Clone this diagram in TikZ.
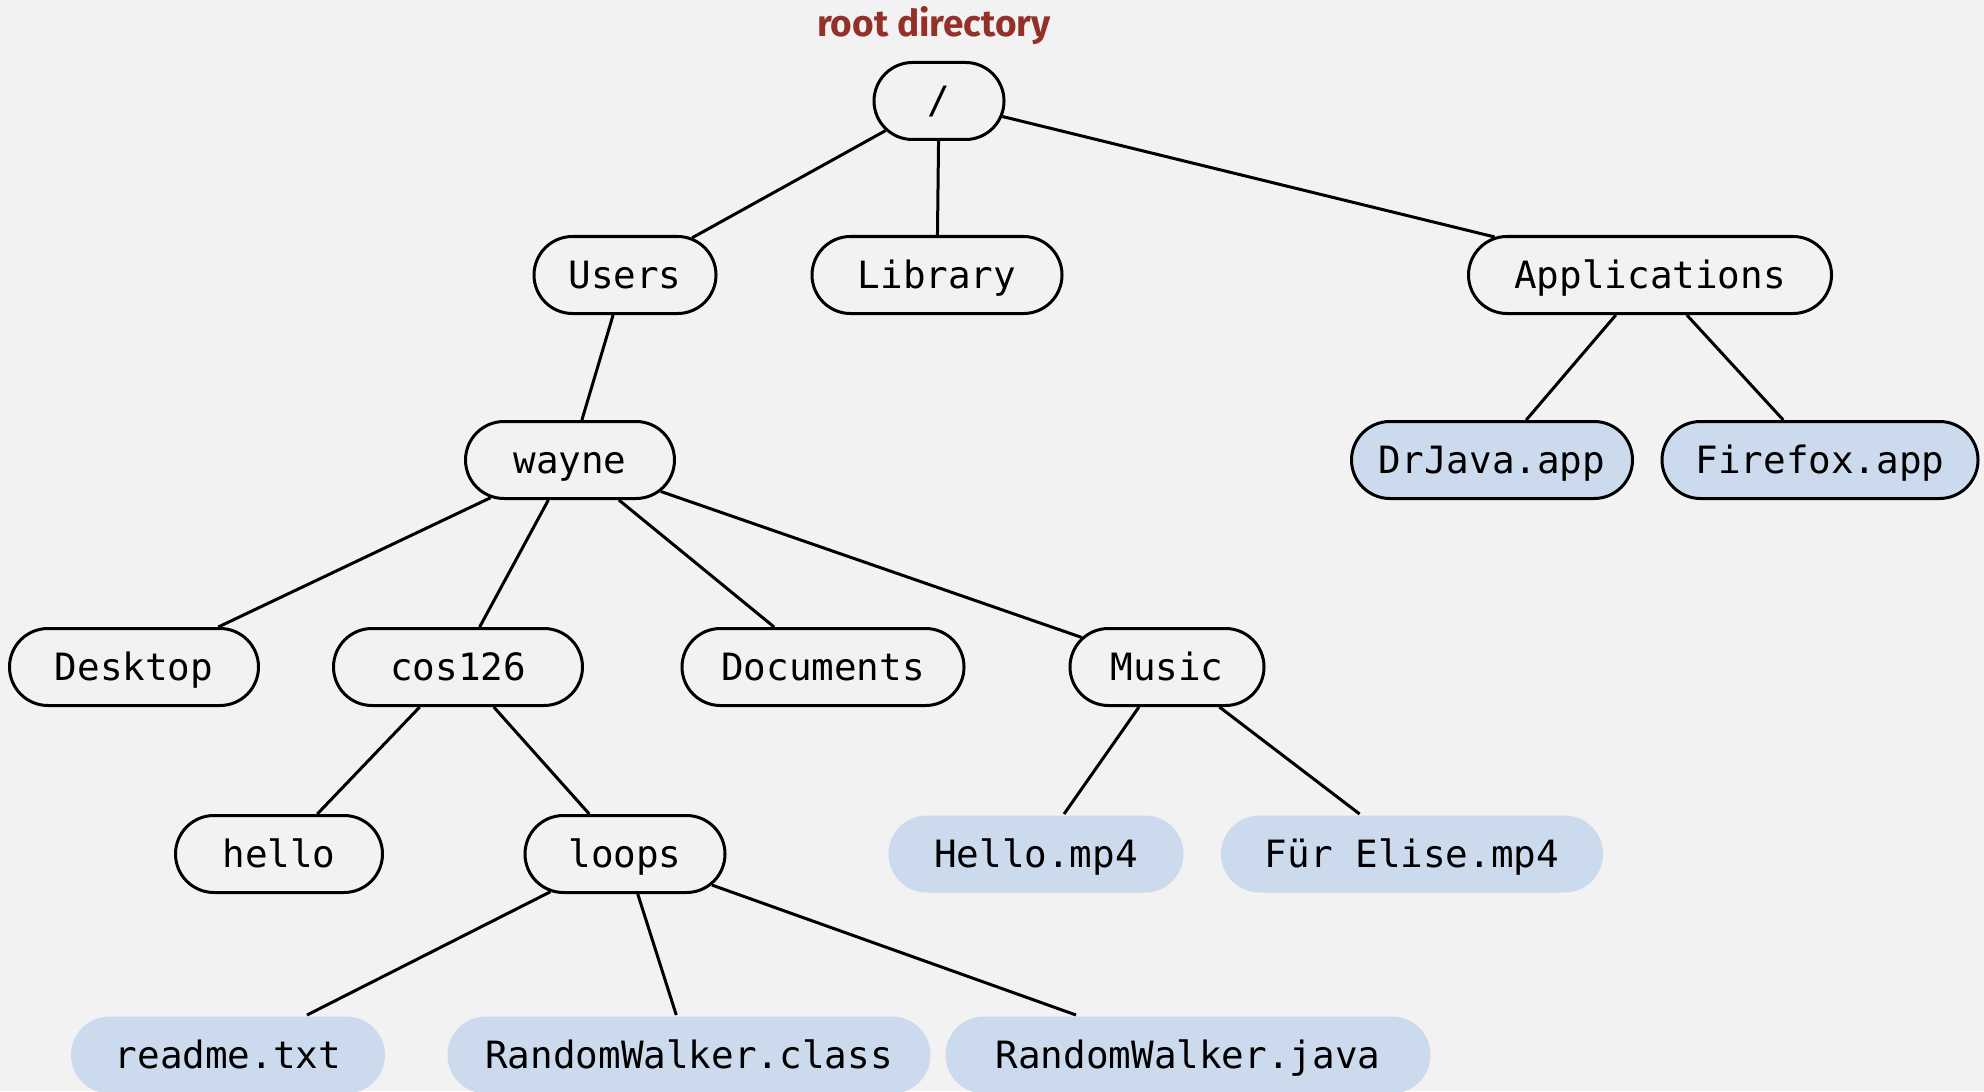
\documentclass[tikz,border=0pt]{standalone}
\usepackage{fontspec}
\setmonofont{DejaVu Sans Mono}
\newfontfamily\labelfont{Fira Sans}
\usetikzlibrary{shapes.misc}

\definecolor{pagebg}{HTML}{F2F2F2}
\definecolor{fileblue}{HTML}{CBDAEC}
\definecolor{labelred}{HTML}{93302A}

\begin{document}
\begin{tikzpicture}[x=0.5pt, y=-0.5pt, line width=1.5pt,
		every node/.style={font=\fontsize{18.8}{20}\ttfamily, rounded rectangle, inner xsep=0pt,
			minimum height=38.5pt, text height=1.3em, text depth=0pt},
		dirbox/.style={draw, fill=pagebg},
		filebox/.style={fill=fileblue},
		appbox/.style={draw, fill=fileblue}]
		\useasboundingbox (0,0) rectangle (1984,1091);
		\fill[pagebg] (0,0) rectangle (1984,1091);

		% Label
		\node[font=\labelfont\bfseries\fontsize{18.5}{20}\selectfont, text=labelred, rectangle,
			minimum height=0pt, text height=, text depth=] (rootlabel) at (934,26) {root directory};

		% Level 0
		\node[dirbox, minimum width=65pt] (root) at (939,101) {/};

		% Level 1
		\node[dirbox, minimum width=91pt] (users) at (625,275) {Users};
		\node[dirbox, minimum width=125pt] (library) at (937,275) {Library};
		\node[dirbox, minimum width=181.5pt] (apps) at (1650,275) {Applications};

		% Level 2
		\node[dirbox, minimum width=104.5pt] (wayne) at (570,460) {wayne};
		\node[appbox, minimum width=140.5pt] (drjava) at (1492,460) {DrJava.app};
		\node[appbox, minimum width=158pt] (firefox) at (1820,460) {Firefox.app};

		% Level 3
		\node[dirbox, minimum width=124.5pt] (desktop) at (134,667) {Desktop};
		\node[dirbox, minimum width=124.5pt] (cos) at (458,667) {cos126};
		\node[dirbox, minimum width=141pt] (docs) at (823,667) {Documents};
		\node[dirbox, minimum width=97pt] (music) at (1167,667) {Music};

		% Level 4
		\node[dirbox, minimum width=103.5pt] (hello) at (279,854) {hello};
		\node[dirbox, minimum width=100pt] (loops) at (625,854) {loops};
		\node[filebox, minimum width=147.5pt] (hellomp) at (1036,854) {Hello.mp4};
		\node[filebox, minimum width=191pt] (elise) at (1412,854) {Für Elise.mp4};

		% Level 5
		\node[filebox, minimum width=157pt] (readme) at (228,1055) {readme.txt};
		\node[filebox, minimum width=241.5pt] (rwclass) at (689,1055) {RandomWalker.class};
		\node[filebox, minimum width=242.5pt] (rwjava) at (1188,1055) {RandomWalker.java};

		% Edges
		\draw (root) -- (users);
		\draw (root) -- (library);
		\draw (root) -- (apps);
		\draw (users) -- (wayne);
		\draw (apps) -- (drjava);
		\draw (apps) -- (firefox);
		\draw (wayne) -- (desktop);
		\draw (wayne) -- (cos);
		\draw (wayne) -- (docs);
		\draw (wayne) -- (music);
		\draw (cos) -- (hello);
		\draw (cos) -- (loops);
		\draw (music) -- (hellomp);
		\draw (music) -- (elise);
		\draw (loops) -- (readme);
		\draw (loops) -- (rwclass);
		\draw (loops) -- (rwjava);
	\end{tikzpicture}
\end{document}
